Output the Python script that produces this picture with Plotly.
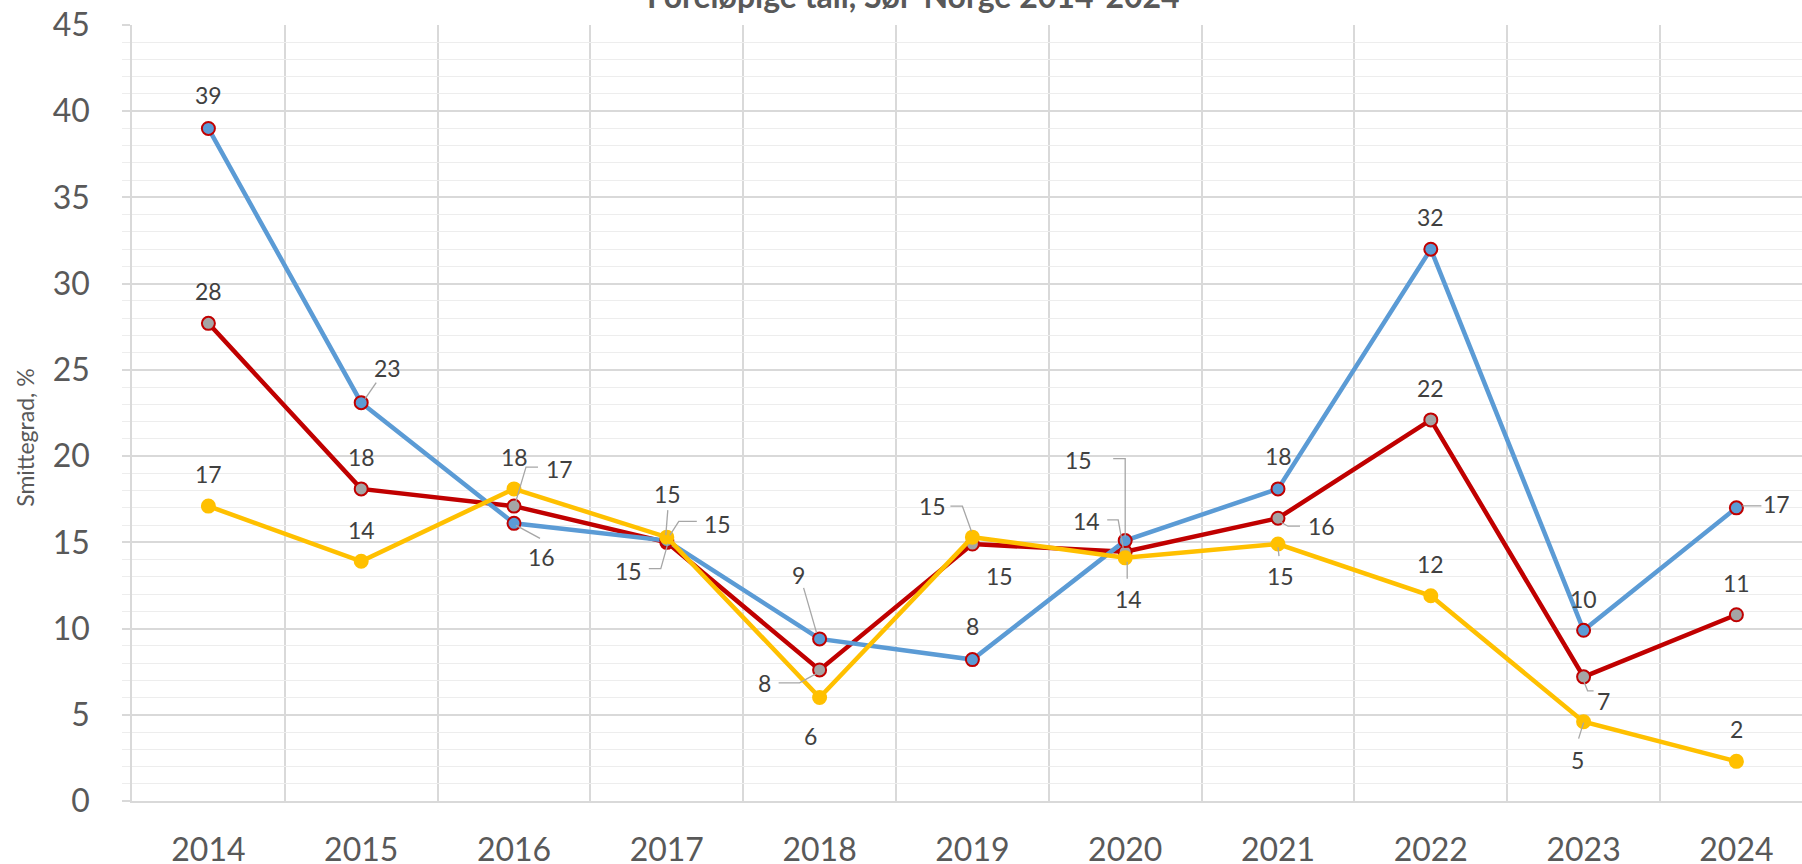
import plotly.graph_objects as go

# ---------------- data ----------------
years = ["2014", "2015", "2016", "2017", "2018", "2019", "2020", "2021", "2022", "2023", "2024"]
blue_vals = [39.0, 23.1, 16.1, 15.1, 9.4, 8.2, 15.1, 18.1, 32.0, 9.9, 17.0]
red_vals = [27.7, 18.1, 17.1, 15.0, 7.6, 14.9, 14.45, 16.4, 22.1, 7.2, 10.8]
yellow_vals = [17.1, 13.9, 18.1, 15.3, 6.0, 15.3, 14.1, 14.9, 11.9, 4.6, 2.3]
y_ticks = [0, 5, 10, 15, 20, 25, 30, 35, 40, 45]

title_text = "Foreløpige tall, Sør-Norge 2014-2024"
y_title = "Smittegrad, %"

# ---------------- styling / label placement (pixel offsets) ----------------
FONT = "Lato, 'Noto Sans', sans-serif"
GRAY_TXT = "#595959"
LBL_TXT = "#404040"
LEADER = "#A6A6A6"

x_idx = list(range(len(years)))

blue_lab = [(0, 33), (26, 35), (27, -34), (-38, -30), (-21, 64), (0, 34), (-47, 81), (0, 33), (0, 32), (0, 31), (40, 4)]
blue_lead = {1: [(15, 20), (4, 4)], 2: [(2, -2), (26, -15)], 3: [(-18, -28), (-6, -28), (1, -3)],
             4: [(-16, 51), (-3, 6)], 6: [(-12, 82), (0, 82), (0, 4)], 10: [(6, 2), (25, 2)]}

red_lab = [(0, 32), (0, 32), (45, 37), (51, 18), (-55, -13), (27, -32), (-39, 31), (43, -8), (0, 32), (20, -24), (0, 32)]
red_lead = {2: [(1, 2), (12, 39), (24, 39)], 3: [(3, 7), (12, 21), (30, 21)], 4: [(-41, -13), (-20, -13), (-2, -3)],
            6: [(-18, 32), (-7, 32), (-2, 4)], 7: [(3, -4), (10, -8), (22, -8)], 9: [(0, -4), (4, -14), (10, -14)]}

yellow_lab = [(0, 32), (0, 31), (0, 32), (1, 43), (-9, -38), (-40, 31), (3, -41), (2, -32), (0, 32), (-6, -38), (0, 32)]
yellow_lead = {3: [(1, 27), (-1, 2)], 5: [(-22, 31), (-10, 31), (-1, 6)], 6: [(2, -4), (2, -21)],
               7: [(0, -3), (1, -12)], 9: [(0, -1), (-5, -17)]}

series = [
    dict(name="Rød", vals=red_vals, line="#C00000", fill="#A5A5A5", border="#C00000", lab=red_lab, lead=red_lead),
    dict(name="Blå", vals=blue_vals, line="#5B9BD5", fill="#5B9BD5", border="#C00000", lab=blue_lab, lead=blue_lead),
    dict(name="Gul", vals=yellow_vals, line="#FFC000", fill="#FFC000", border="#FFC000", lab=yellow_lab, lead=yellow_lead),
]

fig = go.Figure()
annotations = []
shapes = []

for s in series:
    fig.add_trace(go.Scatter(
        x=x_idx, y=s["vals"], mode="lines+markers", name=s["name"],
        line=dict(color=s["line"], width=4.5),
        marker=dict(size=13, color=s["fill"], line=dict(color=s["border"], width=2)),
        showlegend=False, hoverinfo="skip",
    ))
    for i, v in enumerate(s["vals"]):
        dx, dy = s["lab"][i]
        annotations.append(dict(
            x=x_idx[i], y=v, xref="x", yref="y", text=f"{v:.0f}", showarrow=False,
            xshift=dx, yshift=dy, xanchor="center", yanchor="middle",
            font=dict(family=FONT, size=23, color=LBL_TXT),
        ))
    for i, pts in s["lead"].items():
        path = "M " + " L ".join(f"{px},{py}" for px, py in pts)
        shapes.append(dict(
            type="path", xref="x", yref="y", xsizemode="pixel", ysizemode="pixel",
            xanchor=x_idx[i], yanchor=s["vals"][i], path=path,
            line=dict(color=LEADER, width=1.3), layer="above",
        ))

# title (partially cut at the top of the picture)
annotations.append(dict(
    x=0.4677, y=1, xref="paper", yref="paper", text=f"<b>{title_text}</b>", showarrow=False,
    xanchor="center", yanchor="bottom", yshift=8,
    font=dict(family=FONT, size=32, color=GRAY_TXT),
))
# y-axis title
annotations.append(dict(
    x=0, y=0.468, xref="paper", yref="paper", text=y_title, showarrow=False, textangle=-90,
    xanchor="center", yanchor="middle", xshift=-107,
    font=dict(family=FONT, size=23, color=GRAY_TXT),
))

fig.update_layout(
    width=1802, height=864,
    margin=dict(l=132, r=0, t=25, b=63, autoexpand=False),
    paper_bgcolor="white", plot_bgcolor="white",
    annotations=annotations, shapes=shapes,
    showlegend=False,
)

fig.update_xaxes(
    range=[-0.5, -0.5 + 1670 / 152.8],
    tickmode="array", tickvals=x_idx, ticktext=years,
    showgrid=False, zeroline=False, automargin=False,
    showline=True, linecolor="#D9D9D9", linewidth=1.5,
    ticks="", ticklabelstandoff=20,
    tickfont=dict(family=FONT, size=32, color=GRAY_TXT),
    minor=dict(tick0=0.5, dtick=1, showgrid=True, gridcolor="#D9D9D9", gridwidth=1.5, ticks=""),
)
fig.update_yaxes(
    range=[0, 45], tickmode="array", tickvals=y_ticks, automargin=False,
    showgrid=True, gridcolor="#D9D9D9", gridwidth=1.5, zeroline=False,
    showline=True, linecolor="#D9D9D9", linewidth=1.5,
    ticks="outside", ticklen=8, tickcolor="#D9D9D9", tickwidth=1.5,
    ticklabelstandoff=26,
    tickfont=dict(family=FONT, size=32, color=GRAY_TXT),
    minor=dict(dtick=1, showgrid=True, gridcolor="#EDEDED", gridwidth=1.3,
               ticks="outside", ticklen=8, tickcolor="#EDEDED", tickwidth=1.3),
)

fig.write_html(
    "out.html",
    config={"displayModeBar": False},
    post_script="document.body.style.margin='0';document.body.style.overflow='hidden';",
)
